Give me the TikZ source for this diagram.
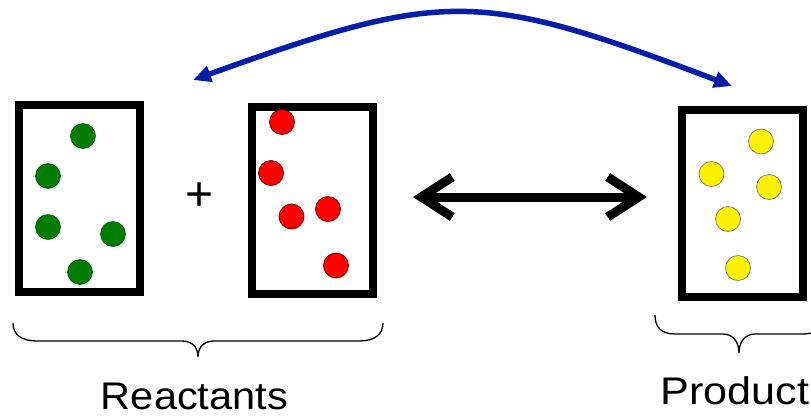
\documentclass[tikz,border=0pt]{standalone}
\usepackage{fontspec}
\setmainfont{Liberation Sans}
\usetikzlibrary{arrows.meta}
\definecolor{arcblue}{RGB}{5,30,170}
\definecolor{dotgreen}{RGB}{0,125,0}
\tikzset{
  jar/.style={draw=black, line width=8pt, minimum width=121pt, minimum height=187pt, inner sep=0pt, fill=white},
  gdot/.style={circle, fill=dotgreen, draw=dotgreen!70!black, line width=0.6pt, minimum size=25pt, inner sep=0pt},
  rdot/.style={circle, fill=red, draw=red!40!black, line width=0.8pt, minimum size=25pt, inner sep=0pt},
  ydot/.style={circle, fill=yellow, draw=gray, line width=0.8pt, minimum size=25pt, inner sep=0pt},
  bracepath/.style={draw=black, line width=1.3pt},
  label/.style={font=\fontsize{38.5}{40}\selectfont, inner sep=0pt, anchor=base},
  barb/.style={Straight Barb[length=31pt,width=40pt]},
}
\begin{document}
\begin{tikzpicture}[x=1pt,y=-1pt]
\useasboundingbox (0,0) rectangle (811,416);
\clip (0,0) rectangle (811,416);
% jars
\node[jar] (jA) at (79.5,198.5) {};
\node[jar] (jB) at (312,200.5) {};
\node[jar] (jC) at (742.5,203.5) {};
% green particles
\node[gdot] (g1) at (83,136) {};
\node[gdot] (g2) at (48,176) {};
\node[gdot] (g3) at (48,227) {};
\node[gdot] (g4) at (113,234) {};
\node[gdot] (g5) at (80,272) {};
% red particles
\node[rdot] (r1) at (282,122) {};
\node[rdot] (r2) at (271,173) {};
\node[rdot] (r3) at (291.5,216.5) {};
\node[rdot] (r4) at (328,209) {};
\node[rdot] (r5) at (336,265.5) {};
% yellow particles
\node[ydot] (y1) at (761,141.5) {};
\node[ydot] (y2) at (711.5,174) {};
\node[ydot] (y3) at (769,187) {};
\node[ydot] (y4) at (728,219) {};
\node[ydot] (y5) at (738,268) {};
% plus sign
\node[font=\fontsize{48}{50}\selectfont, inner sep=0pt, anchor=base] (plus) at (200,210) {+};
% equilibrium arrow
\coordinate (eqL) at (413,197);
\coordinate (eqR) at (647,197);
\draw[line width=9pt, {Straight Barb[length=31pt,width=40pt]}-{Straight Barb[length=31pt,width=40pt]}] (eqL) -- (eqR);
% blue arc
\coordinate (arcL) at (193,80);
\coordinate (arcR) at (732,86);
\draw[arcblue, line width=5.5pt, {Triangle[length=18pt,width=16pt]}-{Triangle[length=18pt,width=16pt]}]
  (arcL) .. controls (446,-11) and (479,-10) .. (arcR);
% braces
\draw[bracepath] (13,323) .. controls (13,335) and (22,341) .. (37,341) -- (182,341)
  .. controls (192,341) and (198,347) .. (198,357)
  .. controls (198,347) and (204,341) .. (214,341) -- (359,341)
  .. controls (374,341) and (383,335) .. (383,323);
\draw[bracepath] (655,315) .. controls (655,327) and (661,334) .. (675,334) -- (723,334)
  .. controls (733,334) and (739,342) .. (739,353)
  .. controls (739,342) and (745,334) .. (755,334) -- (803,334)
  .. controls (817,334) and (823,327) .. (823,315);
% labels
\node[label, xscale=1.08] (lreact) at (194.5,409.5) {Reactants};
\node[label, xscale=1.12] (lprod) at (735,404.5) {Product};
\end{tikzpicture}
\end{document}
